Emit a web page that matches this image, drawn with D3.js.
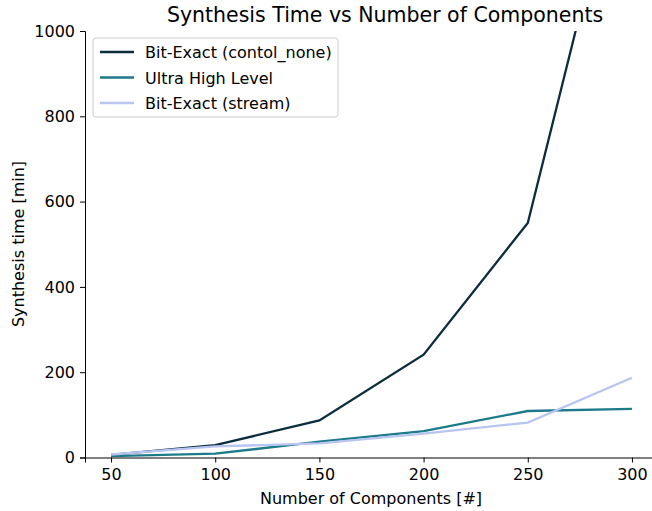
<!DOCTYPE html>
<html>
<head>
<meta charset="utf-8">
<script src="https://cdn.jsdelivr.net/npm/d3@7.9.0/dist/d3.min.js"></script>
<style>
  body { margin: 0; background: #fff; }
  text { font-family: "DejaVu Sans", sans-serif; fill: #000; }
</style>
</head>
<body>
<svg id="chart" width="652" height="511"></svg>
<script>
const components = [50, 100, 150, 200, 250, 300];
const bitExactNone = [6, 29, 87, 241, 550, 1530];
const ultraHighLevel = [3, 9, 37, 62, 109, 114];
const bitExactStream = [7, 26, 33, 56, 82, 187];
const seriesNames = ["Bit-Exact (contol_none)", "Ultra High Level", "Bit-Exact (stream)"];
const seriesColors = ["#0b2d3d", "#1d7a88", "#b9c5f1"];
const xTicks = [50, 100, 150, 200, 250, 300];
const yTicks = [0, 200, 400, 600, 800, 1000];

const margin = { left: 85, top: 31, right: 0, bottom: 53 };
const width = 652, height = 511;
const svg = d3.select("#chart");

const x = d3.scaleLinear().domain([37.5, 312.5]).range([margin.left, 658]);
const y = d3.scaleLinear().domain([0, 1000]).range([457.5, margin.top]);

svg.append("defs").append("clipPath").attr("id", "clip")
  .append("rect").attr("x", margin.left).attr("y", margin.top)
  .attr("width", width - margin.left).attr("height", 457.5 - margin.top);

const series = [bitExactNone, ultraHighLevel, bitExactStream];
const line = d3.line().x((d, i) => x(components[i])).y(d => y(d));

series.forEach((vals, i) => {
  svg.append("path")
    .attr("d", line(vals))
    .attr("fill", "none")
    .attr("stroke", seriesColors[i])
    .attr("stroke-width", 2.3)
    .attr("clip-path", "url(#clip)");
});

// axes
const xAxis = svg.append("g").attr("transform", "translate(0,457.5)")
  .call(d3.axisBottom(x).tickValues(xTicks).tickFormat(d3.format("d")).tickSize(5).tickPadding(6));
const yAxis = svg.append("g").attr("transform", `translate(${margin.left},0)`)
  .call(d3.axisLeft(y).tickValues(yTicks).tickFormat(d3.format("d")).tickSize(5).tickPadding(5));
[xAxis, yAxis].forEach(g => {
  g.attr("font-size", 16).attr("font-family", "DejaVu Sans");
  g.selectAll("text").attr("font-size", 16);
  g.selectAll("path, line").attr("stroke", "#000").attr("stroke-width", 1);
});

svg.append("text").attr("x", 385).attr("y", 22).attr("text-anchor", "middle")
  .attr("font-size", 20.5).text("Synthesis Time vs Number of Components");
svg.append("text").attr("x", 371).attr("y", 504).attr("text-anchor", "middle")
  .attr("font-size", 16).text("Number of Components [#]");
svg.append("text").attr("transform", "translate(24,244) rotate(-90)")
  .attr("text-anchor", "middle").attr("font-size", 16).text("Synthesis time [min]");

// legend
const legend = svg.append("g").attr("transform", "translate(93,38)");
legend.append("rect").attr("width", 245).attr("height", 79).attr("rx", 3)
  .attr("fill", "#fff").attr("fill-opacity", 0.8).attr("stroke", "#ccc");
seriesNames.forEach((name, i) => {
  const yy = 14 + i * 25.5;
  legend.append("line").attr("x1", 7).attr("x2", 41).attr("y1", yy).attr("y2", yy)
    .attr("stroke", seriesColors[i]).attr("stroke-width", 2.3);
  legend.append("text").attr("x", 52).attr("y", yy + 6).attr("font-size", 16).text(name);
});
</script>
</body>
</html>
